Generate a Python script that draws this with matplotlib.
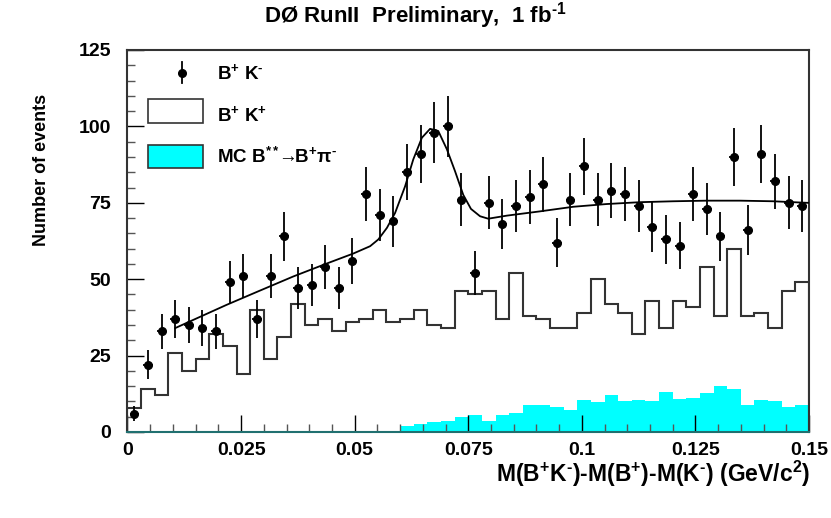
import numpy as np
import matplotlib
matplotlib.use('Agg')
import matplotlib.pyplot as plt
from matplotlib.patches import Rectangle
from matplotlib.lines import Line2D

plt.rcParams['font.family'] = ['Liberation Sans', 'DejaVu Sans']
plt.rcParams['font.weight'] = 'bold'
plt.rcParams['mathtext.fontset'] = 'custom'
plt.rcParams['mathtext.rm'] = 'Liberation Sans:bold'
plt.rcParams['mathtext.bf'] = 'Liberation Sans:bold'
plt.rcParams['mathtext.it'] = 'Liberation Sans:bold:italic'
plt.rcParams['mathtext.default'] = 'bf'

# 50 bins of 3 MeV between 0 and 0.15 GeV
bin_edges = np.linspace(0, 0.15, 51)

# B+ K- (data points)
bk_minus = [6, 22, 33, 37, 35, 34, 33, 49, 51, 37,
            51, 64, 47, 48, 54, 47, 56, 78, 71, 69,
            85, 91, 98, 100, 76, 52, 75, 68, 74, 77,
            81, 62, 76, 87, 76, 79, 78, 74, 67, 63,
            61, 78, 73, 64, 90, 66, 91, 82, 75, 74]

# B+ K+ (open histogram)
bk_plus = [8, 14, 12, 26, 20, 24, 32, 28, 19, 40,
           24, 31, 42, 35, 37, 33, 36, 37, 40, 36,
           37, 40, 35, 34, 46, 45, 46, 37, 52, 38,
           37, 34, 34, 39, 50, 42, 39, 32, 43, 34,
           43, 41, 54, 38, 60, 38, 39, 34, 46, 49]

# MC B** -> B+ pi- (filled histogram)
mc_bpi = [0, 0, 0, 0, 0, 0, 0, 0, 0, 0,
          0, 0, 0, 0, 0, 0, 0, 0, 0, 0.4,
          2.1, 2.7, 3.2, 3.5, 4.8, 5.6, 3.6, 5.6, 6.2, 8.7,
          8.9, 8.3, 7.3, 10.5, 9.7, 12.0, 10.3, 10.6, 10.2, 13.2,
          10.9, 11.1, 12.7, 15.2, 14.0, 8.9, 10.5, 10.1, 8.1, 8.9]

# fit curve
fit_x = [0.0105, 0.0145, 0.0218, 0.0292, 0.0365, 0.0438, 0.0497, 0.0534,
         0.0552, 0.0571, 0.0589, 0.0611, 0.0629, 0.0648, 0.0666, 0.0684,
         0.0703, 0.0721, 0.0739, 0.0756, 0.0776, 0.0794, 0.0835, 0.0908,
         0.0981, 0.1055, 0.1128, 0.1201, 0.1275, 0.1348, 0.1421, 0.1495, 0.15]
fit_y = [34.0, 36.7, 41.6, 46.3, 50.9, 55.1, 58.4, 60.8,
         63.0, 66.8, 71.7, 80.4, 89.2, 96.3, 99.2, 98.5,
         92.5, 85.3, 77.6, 73.0, 70.6, 69.8, 70.8, 72.2,
         73.7, 74.6, 75.2, 75.5, 75.7, 75.7, 75.5, 75.0, 75.0]

xticks = [0, 0.025, 0.05, 0.075, 0.1, 0.125, 0.15]
xtick_labels = ['0', '0.025', '0.05', '0.075', '0.1', '0.125', '0.15']
yticks = [0, 25, 50, 75, 100, 125]

W, H = 831, 518
fig = plt.figure(figsize=(W / 100, H / 100), dpi=100)
ax = fig.add_axes([127.5 / W, 1 - 432 / H, (809 - 127.5) / W, (432 - 50) / H])

centers = 0.5 * (bin_edges[:-1] + bin_edges[1:])
counts = np.array(bk_minus, dtype=float)

ax.stairs(mc_bpi, bin_edges, fill=True, color='#00ffff', zorder=1)
ax.stairs(bk_plus, bin_edges, color='#333333', lw=1.5, zorder=2)
ax.plot(fit_x, fit_y, color='k', lw=1.3, zorder=3)
ax.errorbar(centers, counts, yerr=np.sqrt(counts), xerr=0.00105, fmt='o',
            color='k', ms=5.5, elinewidth=1.3, capsize=0, zorder=4)

ax.set_xlim(0, 0.15)
ax.set_ylim(0, 125)
ax.set_xticks(xticks)
ax.set_xticklabels(xtick_labels)
ax.set_xticks(np.arange(0, 0.1501, 0.005), minor=True)
ax.set_yticks(yticks)
ax.set_yticks(np.arange(0, 126, 5), minor=True)
ax.tick_params(which='major', direction='in', length=12, width=1, labelsize=14,
               top=False, right=False)
ax.tick_params(which='minor', direction='in', length=6, width=1, color='#555555',
               top=False, right=False)
ax.tick_params(axis='x', pad=7)
ax.tick_params(axis='y', pad=12)
for lab in ax.get_xticklabels() + ax.get_yticklabels():
    lab.set_fontweight('bold')

for s in ax.spines.values():
    s.set_linewidth(1.5)
    s.set_color('#333333')
ax.spines['bottom'].set_color('#207070')

m = r'$^{\text{-}}$'
fig.text(415 / W, 1 - 16 / H, r'DØ RunII  Preliminary,  1 fb$^{\text{-}1}$',
         ha='center', va='center', fontsize=16, fontweight='bold')
fig.text(810 / W, 1 - 474 / H,
         r'M(B$^{+}$K' + m + r')-M(B$^{+}$)-M(K' + m + r') (GeV/c$^{2}$)',
         ha='right', va='center', fontsize=16.5, fontweight='bold')
fig.text(42 / W, 1 - 170 / H, 'Number of events', rotation=90,
         ha='center', va='center', fontsize=13, fontweight='bold')

# legend drawn by hand
def fy(y):
    return 1 - y / H

fig.add_artist(Line2D([181.7 / W, 181.7 / W], [fy(62), fy(83)], color='k', lw=1.3))
fig.add_artist(Line2D([181.7 / W], [fy(72.7)], marker='o', color='k', ms=5.5))
fig.add_artist(Rectangle((148 / W, fy(122.7)), 54.5 / W, 23.4 / H, transform=fig.transFigure,
                         facecolor='white', edgecolor='#333333', lw=1.2))
fig.add_artist(Rectangle((148 / W, fy(168)), 54.5 / W, 23 / H, transform=fig.transFigure,
                         facecolor='#00ffff', edgecolor='#333333', lw=1.2))
fig.text(217 / W, fy(73), r'B$^{+}$ K' + m, ha='left', va='center', fontsize=13.5)
fig.text(217 / W, fy(115), r'B$^{+}$ K$^{+}$', ha='left', va='center', fontsize=13.5)
fig.text(217 / W, fy(157), r'MC B$^{**}\!\!\rightarrow\!\!$B$^{+}$π' + m,
         ha='left', va='center', fontsize=13.5)

fig.savefig('out.png', dpi=100)
